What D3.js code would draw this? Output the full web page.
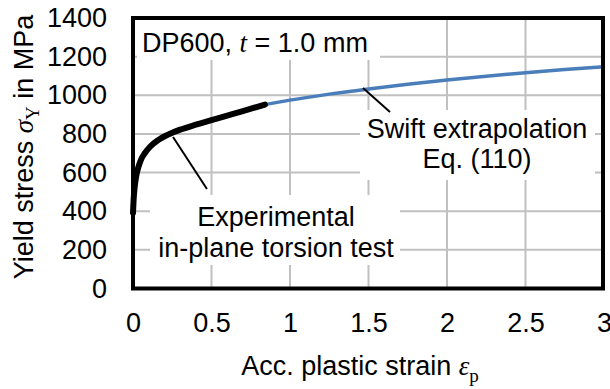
<!DOCTYPE html>
<html>
<head>
<meta charset="utf-8">
<script src="https://cdn.jsdelivr.net/npm/d3@7"></script>
<style>
  body { margin: 0; background: #fff; }
  svg { display: block; }
  text { font-family: "Liberation Sans", Arial, sans-serif; fill: #000; }
  .serif { font-family: "Liberation Serif", "Times New Roman", serif; }
</style>
</head>
<body>
<div id="chart"></div>
<script>
// data
const expStrain = [0, 0.004, 0.01, 0.02, 0.035, 0.05, 0.075, 0.11, 0.16, 0.22, 0.3, 0.4, 0.5, 0.6, 0.7, 0.84];
const expStress = [392, 460, 520, 580, 630, 665, 700, 735, 768, 795, 822, 848, 872, 895, 918, 952];
const swiftStrain = [0.84, 1.0, 1.25, 1.5, 1.75, 2.0, 2.25, 2.5, 2.75, 3.0];
const swiftStress = [952, 975, 1006, 1033, 1057, 1079, 1099, 1117, 1133, 1148];
const xTicks = [0, 0.5, 1, 1.5, 2, 2.5, 3];
const yTicks = [0, 200, 400, 600, 800, 1000, 1200, 1400];
// leader lines: [strain, stress] start on curve -> end near label
const expLeader = [[0.255, 784], [0.471, 515]];
const swiftLeader = [[1.465, 1038], [1.637, 914]];

const width = 610, height = 389;
const fs = 27;
const x = d3.scaleLinear().domain([0, 3]).range([133, 604]);
const y = d3.scaleLinear().domain([0, 1400]).range([288.5, 18]);

const svg = d3.select("#chart").append("svg")
    .attr("width", width)
    .attr("height", height);

// gridlines
// ----------------------------------------
svg.append("g").selectAll("line")
    .data(yTicks.slice(1, -1))
    .enter().append("line")
    .attr("x1", x(0)).attr("x2", x(3))
    .attr("y1", d => y(d)).attr("y2", d => y(d))
    .attr("stroke", "#c0c0c0").attr("stroke-width", 2);

svg.append("g").selectAll("line")
    .data(xTicks.slice(1, -1))
    .enter().append("line")
    .attr("x1", d => x(d)).attr("x2", d => x(d))
    .attr("y1", y(0)).attr("y2", y(1400))
    .attr("stroke", "#c0c0c0").attr("stroke-width", 2);

// white label boxes hiding gridlines
const boxes = [
    [137, 20, 243, 40],
    [360, 110, 235, 70],
    [150, 195, 250, 70]
];
svg.append("g").selectAll("rect")
    .data(boxes)
    .enter().append("rect")
    .attr("x", d => d[0]).attr("y", d => d[1])
    .attr("width", d => d[2]).attr("height", d => d[3])
    .attr("fill", "#fff");

// axes labels
// ----------------------------------------
const xAxis = svg.append("g")
    .attr("transform", `translate(0,${y(0)})`)
    .call(d3.axisBottom(x).tickValues(xTicks).tickSize(0).tickPadding(24).tickFormat(d3.format("")));
xAxis.select(".domain").remove();
xAxis.selectAll("text")
    .attr("font-size", fs)
    .attr("font-family", "'Liberation Sans', Arial, sans-serif")
    .attr("fill", "#000");

const yAxis = svg.append("g")
    .attr("transform", `translate(${x(0)},0)`)
    .call(d3.axisLeft(y).tickValues(yTicks).tickSize(0).tickPadding(26).tickFormat(d3.format("d")));
yAxis.select(".domain").remove();
yAxis.selectAll("text")
    .attr("font-size", fs)
    .attr("font-family", "'Liberation Sans', Arial, sans-serif")
    .attr("fill", "#000");

// curves
// ----------------------------------------
const line = d3.line()
    .x(d => x(d[0]))
    .y(d => y(d[1]))
    .curve(d3.curveMonotoneX);

svg.append("path")
    .datum(d3.zip(swiftStrain, swiftStress))
    .attr("d", line)
    .attr("fill", "none")
    .attr("stroke", "#4a7ebb")
    .attr("stroke-width", 3.5);

svg.append("path")
    .datum(d3.zip(expStrain, expStress))
    .attr("d", line)
    .attr("fill", "none")
    .attr("stroke", "#000")
    .attr("stroke-width", 6)
    .attr("stroke-linecap", "round")
    .attr("stroke-linejoin", "round");

// leaders
const straight = d3.line().x(d => x(d[0])).y(d => y(d[1]));
[expLeader, swiftLeader].forEach(l => {
    svg.append("path")
        .attr("d", straight(l))
        .attr("stroke", "#000")
        .attr("stroke-width", 2);
});

// plot frame
svg.append("rect")
    .attr("x", x(0)).attr("y", y(1400))
    .attr("width", x(3) - x(0) - 1).attr("height", y(0) - y(1400))
    .attr("fill", "none")
    .attr("stroke", "#000")
    .attr("stroke-width", 4);

// annotations
// ----------------------------------------
const t1 = svg.append("text").attr("x", 142).attr("y", 52).attr("font-size", fs);
t1.append("tspan").text("DP600, ");
t1.append("tspan").attr("class", "serif").attr("font-style", "italic").text("t");
t1.append("tspan").text(" = 1.0 mm");

svg.append("text").attr("x", 477).attr("y", 138).attr("font-size", fs)
    .attr("text-anchor", "middle").text("Swift extrapolation");
svg.append("text").attr("x", 477).attr("y", 168).attr("font-size", fs)
    .attr("text-anchor", "middle").text("Eq. (110)");

svg.append("text").attr("x", 276).attr("y", 226).attr("font-size", fs)
    .attr("text-anchor", "middle").text("Experimental");
svg.append("text").attr("x", 276).attr("y", 257).attr("font-size", fs)
    .attr("text-anchor", "middle").text("in-plane torsion test");

// axis titles
const xt = svg.append("text").attr("x", 360).attr("y", 375).attr("font-size", fs)
    .attr("text-anchor", "middle");
xt.append("tspan").text("Acc. plastic strain ");
xt.append("tspan").attr("class", "serif").attr("font-style", "italic").text("ε");
xt.append("tspan").attr("class", "serif").attr("font-size", 19).attr("dy", 7).text("p");

const yt = svg.append("text")
    .attr("transform", "translate(33,147) rotate(-90)")
    .attr("font-size", fs)
    .attr("text-anchor", "middle");
yt.append("tspan").text("Yield stress ");
yt.append("tspan").attr("class", "serif").attr("font-style", "italic").text("σ");
yt.append("tspan").attr("class", "serif").attr("font-size", 19).attr("dy", 6).text("Y");
yt.append("tspan").attr("dy", -6).text(" in MPa");
</script>
</body>
</html>
